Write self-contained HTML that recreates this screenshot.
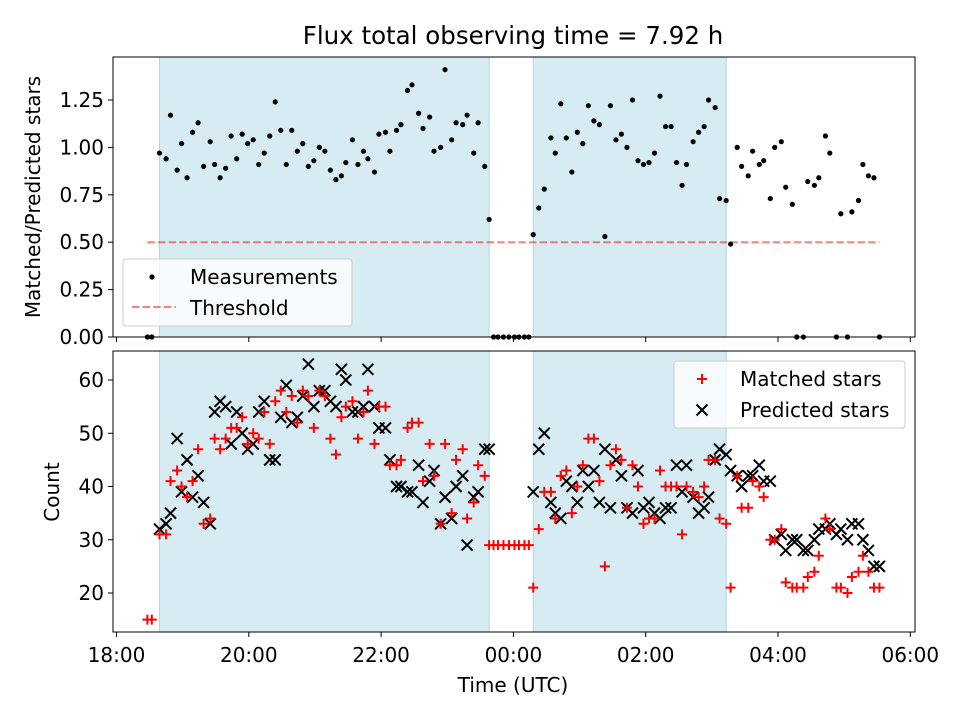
<!DOCTYPE html>
<html><head><meta charset="utf-8"><style>
html,body{margin:0;padding:0;background:#fff;}
svg{display:block;font-family:"DejaVu Sans","Liberation Sans",sans-serif;}
</style></head><body>
<div style="position:relative;width:960px;height:720px">
<svg id="chart" width="960" height="720" viewBox="0 0 960 720" xmlns="http://www.w3.org/2000/svg" style="position:absolute;left:0;top:0">
<text x="513" y="44" font-size="24.5" text-anchor="middle">Flux total observing time = 7.92 h</text>
<g id="top"></g><g id="bot"></g>
</svg>
<svg width="960" height="720" style="position:absolute;left:0;top:0;font-family:'DejaVu Sans','Liberation Sans',sans-serif">
  <text x="40" y="197" font-size="20" text-anchor="middle" transform="rotate(-90 40 197)">Matched/Predicted stars</text>
  <text x="59" y="492" font-size="20" text-anchor="middle" transform="rotate(-90 59 492)">Count</text>
  <text x="513" y="692" font-size="20" text-anchor="middle">Time (UTC)</text>
  <g>
    <rect x="123" y="259" width="229" height="67" rx="3" fill="#fff" fill-opacity="0.8" stroke="#ccc"/>
    <circle cx="152" cy="277" r="2.6" fill="#000"/>
    <text x="190" y="284" font-size="20">Measurements</text>
    <line x1="132" x2="176" y1="307" y2="307" stroke="#ff0000" stroke-opacity="0.5" stroke-width="2" stroke-dasharray="7.4,3.2"/>
    <text x="190" y="315" font-size="20">Threshold</text>
  </g>
  <g>
    <rect x="674" y="361" width="231" height="67" rx="3" fill="#fff" fill-opacity="0.8" stroke="#ccc"/>
    <path d="M697,379L707,379M702,374L702,384" stroke="#ff0000" stroke-width="2"/>
    <text x="740" y="386" font-size="20">Matched stars</text>
    <path d="M696.5,404.5L707.5,415.5M696.5,415.5L707.5,404.5" stroke="#000" stroke-width="2"/>
    <text x="740" y="417" font-size="20">Predicted stars</text>
  </g>
</svg>
</div>
<script>
// minutes since 18:00
const times = [28,32,39,45,49,55,59,64,69,74,79,85,89,94,99,104,109,114,119,124,129,134,139,144,149,154,159,164,169,174,179,184,189,194,199,204,208,214,219,224,228,234,238,244,248,254,258,264,268,274,278,284,288,294,298,304,308,314,318,324,328,334,338,342,346,351,356,361,365,370,374,378,383,388,394,398,403,408,413,418,423,428,433,438,443,448,453,458,463,468,473,478,483,488,493,498,503,508,513,517,523,528,533,537,543,547,553,557,563,567,573,577,583,587,593,597,603,607,613,617,623,627,633,637,643,647,653,657,663,667,673,677,682,687,692];
const ratios = [0,0,0.97,0.94,1.17,0.88,1.02,0.84,1.08,1.13,0.90,1.03,0.91,0.84,0.89,1.06,0.94,1.07,1.02,1.04,0.91,0.97,1.06,1.24,1.09,0.91,1.09,0.98,1.02,0.90,0.93,1.00,0.98,0.88,0.83,0.85,0.92,1.04,0.91,0.98,0.94,0.87,1.07,1.08,0.98,1.09,1.12,1.30,1.33,1.18,1.10,1.16,0.98,1.00,1.41,1.04,1.13,1.12,1.17,0.97,1.13,0.90,0.62,0,0,0,0,0,0,0,0,0.54,0.68,0.78,1.05,0.97,1.23,1.05,0.87,1.08,1.02,1.22,1.14,1.12,0.53,1.22,1.04,1.07,1.00,1.25,0.93,0.91,0.92,0.97,1.27,1.11,1.11,0.92,0.80,0.91,1.03,1.08,1.11,1.25,1.21,0.73,0.72,0.49,1.00,0.90,0.85,0.98,0.91,0.93,0.73,1.00,1.03,0.79,0.70,0,0,0.82,0.80,0.84,1.06,0.97,0,0.65,0,0.66,0.72,0.91,0.85,0.84,0];
const matched = [15,15,31,31,41,43,40,38,41,47,33,34,49,47,49,51,51,53,48,50,49,54,48,56,58,54,57,52,58,57,51,58,57,49,46,53,55,56,49,54,58,48,55,55,44,44,45,51,52,52,41,48,42,33,48,35,45,47,34,37,44,42,29,29,29,29,29,29,29,29,29,21,32,39,39,34,42,43,35,40,44,49,49,41,25,44,47,45,36,44,40,33,34,34,43,40,40,40,31,40,39,38,40,45,45,34,33,21,42,36,36,41,40,38,30,30,32,22,21,21,21,23,24,27,34,32,21,21,20,23,24,27,24,21,21];
const predicted = [null,null,32,33,35,49,39,45,38,42,37,33,54,56,55,48,54,50,47,48,54,56,45,45,53,59,52,53,57,63,55,58,58,56,55,62,60,54,54,55,62,55,51,51,45,40,40,39,39,44,37,41,43,33,38,34,40,42,29,38,39,47,47,null,null,null,null,null,null,null,null,39,47,50,37,35,34,41,40,37,43,40,43,37,47,36,45,42,36,35,43,36,37,35,34,36,36,44,39,44,38,35,36,38,45,47,46,43,42,40,42,42,44,41,41,30,31,28,30,30,28,28,30,32,32,33,31,32,30,33,33,30,28,25,25];
const shadeStart = [39, 378];
const shadeEnd = [338, 553];
const xTickLabels = ["18:00","20:00","22:00","00:00","02:00","04:00","06:00"];
const xTickMins = [0,120,240,360,480,600,720];
const topYTicks = [0,0.25,0.5,0.75,1.0,1.25];
const botYTicks = [20,30,40,50,60];
const threshold = 0.5;

const NS="http://www.w3.org/2000/svg";
function mk(tag,attrs,parent){const e=document.createElementNS(NS,tag);for(const k in attrs)e.setAttribute(k,attrs[k]);parent.appendChild(e);return e;}
const AX_L=113, AX_R=915;
const xS = m => 116.5 + m*(132.3/120);
const topY = v => 337 - v*189.6;
const botY = v => 380 - (v-60)*5.325;
const panels = [{g:document.getElementById('top'),t:57,b:337,name:'top'},{g:document.getElementById('bot'),t:351,b:632,name:'bottom'}];

panels.forEach(p=>{
  for(let i=0;i<shadeStart.length;i++){
    const r=mk('rect',{x:xS(shadeStart[i]),y:p.t,width:xS(shadeEnd[i])-xS(shadeStart[i]),height:p.b-p.t,fill:'#add8e6','fill-opacity':0.5,stroke:'#add8e6','stroke-width':1},p.g);
    
    
  }
});

const tg=panels[0].g;
const th=mk('line',{x1:xS(times[0]),x2:xS(times[times.length-1]),y1:topY(threshold),y2:topY(threshold),stroke:'#ff0000','stroke-opacity':0.5,'stroke-width':2,'stroke-dasharray':'7.4,3.2'},tg);


for(let i=0;i<times.length;i++){
  const c=mk('circle',{cx:xS(times[i]),cy:topY(ratios[i]),r:2.6,fill:'#000'},tg);
  
  
}
const bg=panels[1].g;
for(let i=0;i<times.length;i++){
  if(predicted[i]!==null){
    const x=xS(times[i]),y=botY(predicted[i]),s=5.5;
    const p=mk('path',{d:`M${x-s},${y-s}L${x+s},${y+s}M${x-s},${y+s}L${x+s},${y-s}`,stroke:'#000','stroke-width':2,fill:'none'},bg);
    
    
  }
}
for(let i=0;i<times.length;i++){
  const x=xS(times[i]),y=botY(matched[i]),s=5;
  const p=mk('path',{d:`M${x-s},${y}L${x+s},${y}M${x},${y-s}L${x},${y+s}`,stroke:'#ff0000','stroke-width':2,fill:'none'},bg);
  
  
}

panels.forEach((p,pi)=>{
  const f=mk('rect',{x:AX_L,y:p.t,width:AX_R-AX_L,height:p.b-p.t,fill:'none',stroke:'#000','stroke-width':1},p.g);
  
  
  xTickMins.forEach((m,i)=>{
    const x=xS(m);
    const t=mk('line',{x1:x,x2:x,y1:p.b,y2:p.b+5,stroke:'#000','stroke-width':1},p.g);
    
    
    if(pi===1){
      const l=mk('text',{x:x,y:p.b+30,'font-size':20,'text-anchor':'middle'},p.g);
      l.textContent=xTickLabels[i];
      
      
    }
  });
  const ticks=pi===0?topYTicks:botYTicks, ys=pi===0?topY:botY;
  ticks.forEach(v=>{
    const y=ys(v);
    const t=mk('line',{x1:AX_L-5,x2:AX_L,y1:y,y2:y,stroke:'#000','stroke-width':1},p.g);
    
    
    const l=mk('text',{x:AX_L-9,y:y+7,'font-size':20,'text-anchor':'end'},p.g);
    l.textContent=pi===0?v.toFixed(2):String(v);
    
    
  });
});
</script>
</body></html>
